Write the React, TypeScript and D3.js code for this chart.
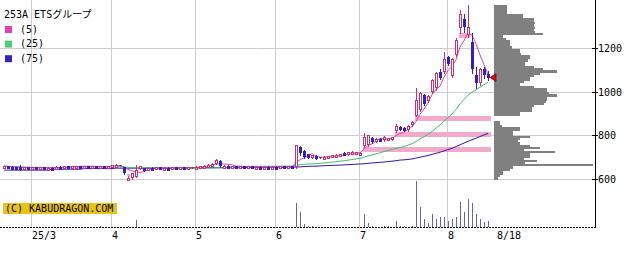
import React from 'react';
import * as d3 from 'd3';

const W = 640;
const H = 254;

const title = '253A ETSグループ';
const maLabels = ['(5)', '(25)', '(75)'];
const maColors = ['#e83cb8', '#50cc80', '#3422c8'];
const maLineColors = ['#e040b8', '#40c070', '#3018b0'];

const opens = [661,662,659,658,657,653,655,653,655,653,655,652,654,654,659,657,660,658,661,663,660,662,659,661,658,660,658,661,663,665,658,601,608,613,652,651,646,654,652,655,652,654,652,655,653,655,654,655,655,657,661,664,667,671,686,662,664,660,662,659,661,658,660,657,659,656,659,657,659,657,660,658,660,656,750,731,716,699,708,701,700,701,703,706,708,722,713,717,718,717,752,760,790,773,786,780,786,790,823,842,836,826,848,892,918,986,960,1001,1017,1093,1093,1159,1073,1169,1292,1333,1261,1230,1078,1040,1105,1082];
const highs = [664,663,661,659,665,656,657,656,657,656,656,655,656,660,661,661,662,662,664,664,663,663,662,662,661,662,661,668,670,667,659,616,632,666,662,653,656,657,656,657,655,656,656,657,656,657,656,657,660,664,666,670,674,693,689,666,665,663,664,662,662,661,661,660,660,660,661,660,661,661,661,661,661,760,753,735,718,714,710,703,707,708,711,715,717,727,726,729,728,725,812,806,795,790,788,798,792,794,852,846,840,848,868,1017,1000,990,985,1060,1092,1108,1183,1165,1155,1250,1375,1360,1398,1270,1116,1112,1116,1098];
const lows = [659,657,656,655,643,651,652,651,652,651,651,650,652,653,656,656,657,657,659,659,658,658,657,657,656,657,656,660,661,663,624,597,604,611,650,639,644,650,650,651,650,651,651,652,651,652,652,654,654,656,660,663,666,669,659,659,659,658,658,657,657,656,656,655,655,655,656,655,656,656,656,656,654,654,710,700,697,697,694,698,698,699,701,704,706,710,711,715,716,715,748,755,765,770,778,778,783,782,817,826,824,824,846,890,914,942,955,998,1012,1060,1088,1125,1068,1165,1272,1275,1253,1087,1017,1035,1063,1055];
const closes = [662,658,657,656,653,655,653,655,653,655,652,654,653,659,657,660,658,661,663,660,662,659,661,658,660,658,660,666,668,665,628,607,628,642,660,641,654,652,655,652,654,652,655,653,655,654,655,655,658,662,664,668,672,690,662,664,660,662,659,661,658,660,657,659,656,659,657,659,657,660,658,660,656,757,720,704,699,712,697,701,705,706,710,713,715,713,724,727,726,723,796,803,770,785,781,795,790,793,845,830,828,845,864,963,994,948,982,1055,1088,1067,1154,1131,1150,1241,1360,1299,1299,1108,1040,1108,1078,1067];
const volumes = [1,1,1,1,1,1,1,1,1,1,1,1,1,1,1,1,1,1,1,1,1,1,1,1,10,1,1,1,1,1,1,12,5,70,1,1,1,1,1,1,1,1,1,1,1,1,1,1,1,1,1,10,1,1,1,1,1,1,1,1,1,1,1,1,1,1,1,1,1,1,1,1,1,240,146,26,10,10,3,3,3,3,3,3,3,3,3,3,3,3,128,37,10,3,3,10,10,3,60,10,10,3,12,460,200,80,37,128,80,100,100,60,80,100,250,146,280,240,135,80,48,62];
const ma75 = [643,643,643,643,643,643,643,643,643,643,643,643,647,647,647,647,647,647,647,647,650,650,650,650,650,650,650,650,652,652,652,652,652,652,652,652,652,652,652,652,652,652,652,652,652,652,652,652,654,654,654,654,654,654,654,654,654,654,654,654,654,656,656,656,656,656,656,656,656,656,656,656,656,657,658,659,660,661,661,662,663,664,665,665,666,667,668,669,670,671,672,674,676,677,679,680,682,684,686,689,690,692,694,698,702,706,710,715,720,725,731,737,743,751,759,767,775,782,789,797,804,811];

// month tick labels and the index of the first trading day of each month
const tickLabels = ['25/3', '4', '5', '6', '7', '8'];
const tickIndex = [7, 27, 48, 68, 89, 111];
const lastLabel = '8/18';

const priceTicks = [600, 800, 1000, 1200];

// price gaps (windows)
const gapStart = [31, 90, 98, 103, 114];
const gapFill = [32, -1, -1, -1, 117];
const gapLow = [616, 725, 794, 868, 1250];
const gapHigh = [624, 748, 817, 890, 1272];
const gapUp = [false, true, true, true, true];

// volume-by-price profile, bins of 10 from 600 upwards
const profileVolume = [4,6,9,9,16,19,99,31,43,30,36,36,61,30,46,36,26,24,26,36,19,19,26,26,8,6,6,0,0,26,26,38,38,40,50,52,53,53,63,55,53,53,40,26,30,36,36,40,46,63,49,40,31,31,34,36,36,27,26,26,18,16,16,16,12,9,49,41,40,41,40,41,40,40,29,29,13,13,13,13];

const UP = '#d42c6c';
const DOWN = '#3020c8';
const DOJI = '#307830';
const FONT = "'DejaVu Sans Mono', 'Noto Sans CJK JP', monospace";

function movingAverage(values: number[], n: number): number[] {
  return values.map((_, i) => {
    const s = Math.max(0, i - n + 1);
    return d3.mean(values.slice(s, i + 1)) as number;
  });
}

export default function App() {
  const n = closes.length;
  const x = d3.scaleLinear().domain([0, n - 1]).range([4, 488]);
  const y = d3.scaleLinear().domain([600, 1200]).range([179.5, 48.5]);
  const vy = d3.scaleLinear().domain([0, 460]).range([227, 181]);
  const px = d3.scaleLinear().domain([0, 100]).range([494, 594]);
  const bins = d3.range(600, 1400, 10);

  const ma5 = movingAverage(closes, 5);
  const ma25 = movingAverage(closes, 25);
  const maSeries = [ma75, ma25, ma5];
  const maSeriesColors = [maLineColors[2], maLineColors[1], maLineColors[0]];
  const line = d3.line<number>().x((_, i) => x(i)).y((d) => y(d));

  const lastClose = closes[n - 1];
  const ty = y(lastClose);

  return (
    <svg
      width={W}
      height={H}
      style={{ position: 'absolute', left: 0, top: 0, display: 'block', background: '#fff' }}
    >
      <rect x={0} y={0} width={W} height={H} fill="#fff" />
      {/* grid */}
      {tickIndex.map((ti, k) => (
        <line key={'vg' + k} x1={x(ti) - 0.5} x2={x(ti) - 0.5} y1={0} y2={228} stroke="#cccccc" strokeWidth={1} />
      ))}
      {priceTicks.map((p) => (
        <line key={'hg' + p} x1={0} x2={595} y1={Math.floor(y(p)) + 0.5} y2={Math.floor(y(p)) + 0.5} stroke="#cccccc" strokeWidth={1} />
      ))}
      {/* volume profile */}
      <g shapeRendering="crispEdges">
        {bins.map((b, i) =>
          profileVolume[i] > 0 ? (
            <rect key={'pf' + i} x={px(0)} y={y(b + 10)} width={px(profileVolume[i]) - px(0)} height={y(b) - y(b + 10)} fill="#808080" />
          ) : null
        )}
      </g>
      {/* gaps */}
      <g shapeRendering="crispEdges">
        {gapStart.map((s, i) => {
          const x0 = x(s) - 1;
          const x1 = gapFill[i] >= 0 ? x(gapFill[i]) - 2 : x(n - 1) + 3;
          return (
            <rect key={'gap' + i} x={x0} y={y(gapHigh[i])} width={x1 - x0} height={y(gapLow[i]) - y(gapHigh[i])} fill={gapUp[i] ? '#f2aacb' : '#b8b8ec'} />
          );
        })}
      </g>
      {/* volume */}
      <g shapeRendering="crispEdges">
        {volumes.map((v, i) => (
          <rect key={'v' + i} x={x(i)} y={vy(v)} width={1} height={vy(0) - vy(v)} fill="#6464a8" />
        ))}
      </g>
      {/* moving averages */}
      {maSeries.map((s, k) => (
        <path key={'ma' + k} d={line(s) || ''} fill="none" stroke={maSeriesColors[k]} strokeWidth={1} />
      ))}
      {/* candles */}
      <g shapeRendering="crispEdges">
        {closes.map((c, i) => {
          const o = opens[i];
          const cx = x(i);
          const hiY = Math.round(y(highs[i]));
          const loY = Math.round(y(lows[i]));
          const topY = Math.round(y(Math.max(o, c)));
          const botY = Math.round(y(Math.min(o, c)));
          if (o === c) {
            return (
              <g key={'c' + i}>
                <line x1={cx + 0.5} x2={cx + 0.5} y1={hiY} y2={loY + 1} stroke={DOJI} />
                <line x1={cx - 1} x2={cx + 2} y1={topY + 0.5} y2={topY + 0.5} stroke={DOJI} />
              </g>
            );
          }
          const up = c > o;
          const col = up ? UP : DOWN;
          const h = Math.max(botY - topY, 3);
          return (
            <g key={'c' + i}>
              <line x1={cx + 0.5} x2={cx + 0.5} y1={hiY} y2={loY + 1} stroke={col} />
              {up ? (
                <rect x={cx - 0.5} y={topY + 0.5} width={2} height={h - 1} fill="#fff" stroke={col} strokeWidth={1} />
              ) : (
                <rect x={cx - 1} y={topY} width={3} height={h} fill={col} />
              )}
            </g>
          );
        })}
      </g>
      {/* last price marker */}
      <path d={`M${x(n - 1) + 2},${ty} L${x(n - 1) + 8},${ty - 4} L${x(n - 1) + 8},${ty + 4} Z`} fill="#e00000" stroke="#600000" strokeWidth={0.6} />
      {/* axes */}
      <line x1={595.5} x2={595.5} y1={0} y2={228} stroke="#000" strokeWidth={1} />
      <line x1={0} x2={596} y1={227.5} y2={227.5} stroke="#000" strokeWidth={1} strokeDasharray="2,1" />
      {priceTicks.map((p) => (
        <g key={'pt' + p}>
          <line x1={592} x2={598} y1={Math.floor(y(p)) + 0.5} y2={Math.floor(y(p)) + 0.5} stroke="#000" strokeWidth={1} />
          <text x={598} y={Math.floor(y(p)) + 4} fontFamily={FONT} fontSize={10} fill="#000">{p}</text>
        </g>
      ))}
      {tickIndex.map((ti, k) => (
        <text key={'xt' + k} x={x(ti)} y={238.5} fontFamily={FONT} fontSize={10} fill="#000">{tickLabels[k]}</text>
      ))}
      <text x={x(n - 1) + 9} y={238.5} fontFamily={FONT} fontSize={10} fill="#000">{lastLabel}</text>
      {/* legend */}
      <text x={4} y={17.5} fontFamily={FONT} fontSize={10} fill="#000">{title}</text>
      {maLabels.map((lab, k) => (
        <g key={'lg' + k}>
          <rect x={5} y={26 + k * 14.6} width={7} height={7} fill={maColors[k]} />
          <text x={20} y={32.5 + k * 14.6} fontFamily={FONT} fontSize={10} fill="#000">{lab}</text>
        </g>
      ))}
      {/* copyright */}
      <rect x={3} y={203} width={114} height={11} fill="#e8c414" />
      <text x={5} y={212} fontFamily={FONT} fontSize={10} fill="#000">(C) KABUDRAGON.COM</text>
    </svg>
  );
}
